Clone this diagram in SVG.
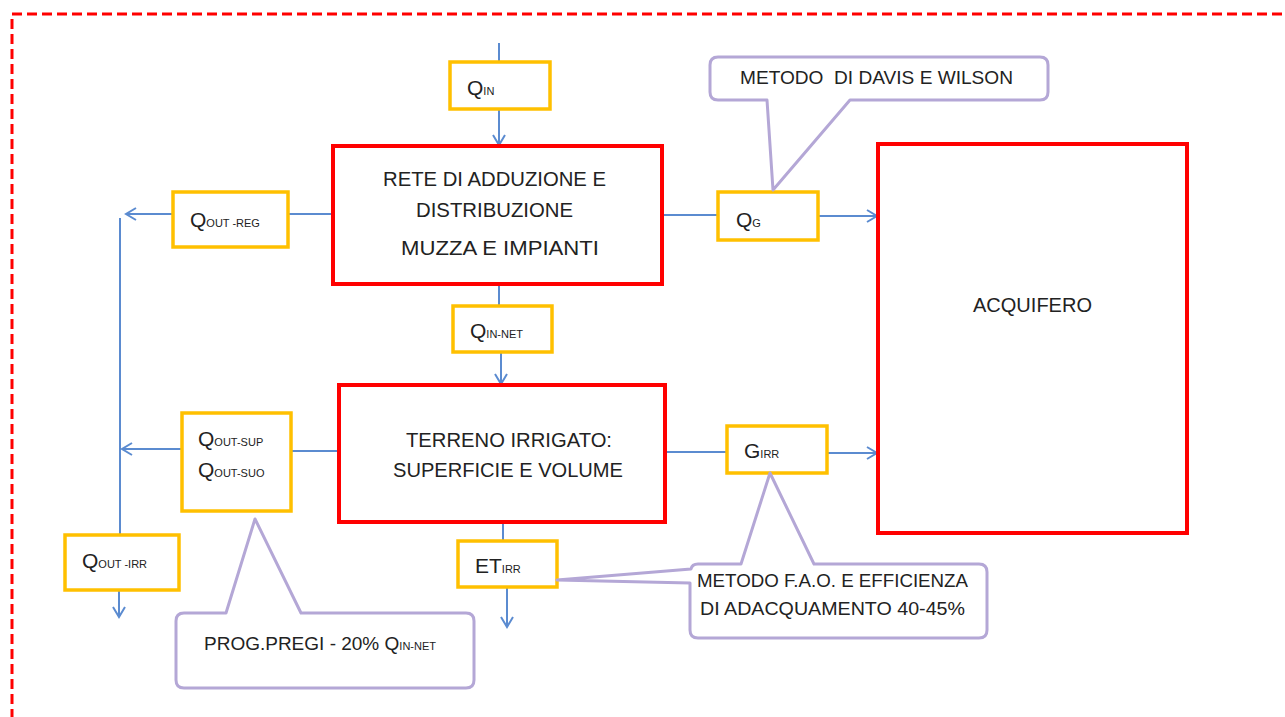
<svg xmlns="http://www.w3.org/2000/svg" width="1285" height="717" viewBox="0 0 1285 717">
<style>
.frame{fill:none;stroke:#FF0000;stroke-width:3;stroke-dasharray:10 5}
.big{fill:#fff;stroke:#FF0000;stroke-width:4}
.flow{fill:#fff;stroke:#FFC000;stroke-width:3.5}
.call{fill:#fff;stroke:#B4A7D6;stroke-width:3;stroke-linejoin:round}
.conn{fill:none;stroke:#5B8BD0;stroke-width:2}
.t{font-family:"Liberation Sans",Arial,sans-serif;fill:#222}
.sub{font-size:11px}
</style>
<defs>
<marker id="arr" markerUnits="userSpaceOnUse" markerWidth="14" markerHeight="14" refX="11" refY="6.5" orient="auto" overflow="visible">
<path d="M1,0.5 L11,6.5 L1,12.5" fill="none" stroke="#5B8BD0" stroke-width="2"/>
</marker>
</defs>
<rect width="1285" height="717" fill="#fff"/>
<rect class="frame" x="12" y="14" width="1290" height="720"/>

<g id="connectors">
<line class="conn" x1="499" y1="43" x2="499" y2="62"/>
<line class="conn" x1="499" y1="109" x2="499" y2="145" marker-end="url(#arr)"/>
<line class="conn" x1="499" y1="285" x2="499" y2="306"/>
<line class="conn" x1="501" y1="352" x2="501" y2="384" marker-end="url(#arr)"/>
<line class="conn" x1="503" y1="522" x2="503" y2="541"/>
<line class="conn" x1="507" y1="587" x2="507" y2="627" marker-end="url(#arr)"/>
<line class="conn" x1="288" y1="214" x2="333" y2="214"/>
<line class="conn" x1="173" y1="214" x2="126" y2="214" marker-end="url(#arr)"/>
<line class="conn" x1="120" y1="218" x2="120" y2="535"/>
<line class="conn" x1="119" y1="590" x2="119" y2="617" marker-end="url(#arr)"/>
<line class="conn" x1="291" y1="451" x2="339" y2="451"/>
<line class="conn" x1="182" y1="449" x2="122" y2="449" marker-end="url(#arr)"/>
<line class="conn" x1="662" y1="215" x2="718" y2="215"/>
<line class="conn" x1="818" y1="216" x2="877" y2="216" marker-end="url(#arr)"/>
<line class="conn" x1="665" y1="452" x2="727" y2="452"/>
<line class="conn" x1="827" y1="453" x2="877" y2="453" marker-end="url(#arr)"/>
</g>

<g id="rete">
<rect class="big" x="333" y="146" width="329" height="138"/>
<text class="t" x="494.5" y="186" font-size="20" text-anchor="middle" textLength="223" lengthAdjust="spacingAndGlyphs">RETE DI ADDUZIONE E</text>
<text class="t" x="494.5" y="217" font-size="20" text-anchor="middle" textLength="157" lengthAdjust="spacingAndGlyphs">DISTRIBUZIONE</text>
<text class="t" x="500" y="255" font-size="20" text-anchor="middle" textLength="198" lengthAdjust="spacingAndGlyphs">MUZZA E IMPIANTI</text>
</g>

<g id="terreno">
<rect class="big" x="339" y="385" width="326" height="137"/>
<text class="t" x="509" y="447" font-size="20" text-anchor="middle" textLength="206" lengthAdjust="spacingAndGlyphs">TERRENO IRRIGATO:</text>
<text class="t" x="508" y="477" font-size="20" text-anchor="middle" textLength="230" lengthAdjust="spacingAndGlyphs">SUPERFICIE E VOLUME</text>
</g>

<g id="acquifero">
<rect class="big" x="878" y="144" width="309" height="389"/>
<text class="t" x="1032.5" y="312" font-size="20" text-anchor="middle" textLength="119" lengthAdjust="spacingAndGlyphs">ACQUIFERO</text>
</g>

<g id="q-in">
<rect class="flow" x="450" y="62" width="100" height="47"/>
<text class="t" x="467" y="95" font-size="21">Q<tspan class="sub">IN</tspan></text>
</g>

<g id="q-out-reg">
<rect class="flow" x="173" y="192" width="115" height="55"/>
<text class="t" x="190" y="227" font-size="21">Q<tspan class="sub">OUT -REG</tspan></text>
</g>

<g id="q-g">
<rect class="flow" x="718" y="192" width="100" height="48"/>
<text class="t" x="736" y="227" font-size="21">Q<tspan class="sub">G</tspan></text>
</g>

<g id="q-in-net">
<rect class="flow" x="453" y="306" width="99" height="46"/>
<text class="t" x="470" y="338" font-size="21">Q<tspan class="sub">IN-NET</tspan></text>
</g>

<g id="q-out-sup">
<rect class="flow" x="182" y="413" width="109" height="98"/>
<text class="t" x="198" y="446" font-size="21">Q<tspan class="sub">OUT-SUP</tspan></text>
<text class="t" x="198" y="477" font-size="21">Q<tspan class="sub">OUT-SUO</tspan></text>
</g>

<g id="g-irr">
<rect class="flow" x="727" y="426" width="100" height="47"/>
<text class="t" x="744" y="458" font-size="21">G<tspan class="sub">IRR</tspan></text>
</g>

<g id="q-out-irr">
<rect class="flow" x="65" y="535" width="114" height="55"/>
<text class="t" x="82" y="568" font-size="21">Q<tspan class="sub">OUT -IRR</tspan></text>
</g>

<g id="et-irr">
<rect class="flow" x="458" y="541" width="99" height="46"/>
<text class="t" x="475" y="573" font-size="21">ET<tspan class="sub">IRR</tspan></text>
</g>

<g id="callout-davis">
<path class="call" d="M718,57 H1040 Q1048,57 1048,65 V92 Q1048,100 1040,100 H850 L773,190 L767,100 H718 Q710,100 710,92 V65 Q710,57 718,57 Z"/>
<text class="t" x="740" y="84" font-size="19" textLength="273" lengthAdjust="spacingAndGlyphs" xml:space="preserve">METODO  DI DAVIS E WILSON</text>
</g>

<g id="callout-prog">
<path class="call" d="M184,613 H226 L255,519 L301,613 H466 Q474,613 474,621 V680 Q474,688 466,688 H184 Q176,688 176,680 V621 Q176,613 184,613 Z"/>
<text class="t" x="204" y="650" font-size="19">PROG.PREGI - 20% Q<tspan font-size="11">IN-NET</tspan></text>
</g>

<g id="callout-fao">
<path class="call" d="M698,564 H741 L770,473 L814,564 H979 Q987,564 987,572 V630 Q987,638 979,638 H698 Q690,638 690,630 V583 L557,580 L691,569 Q692,564 698,564 Z"/>
<text class="t" x="697" y="587" font-size="19" textLength="271" lengthAdjust="spacingAndGlyphs">METODO F.A.O. E EFFICIENZA</text>
<text class="t" x="700" y="615" font-size="19" textLength="265" lengthAdjust="spacingAndGlyphs">DI ADACQUAMENTO 40-45%</text>
</g>
</svg>
